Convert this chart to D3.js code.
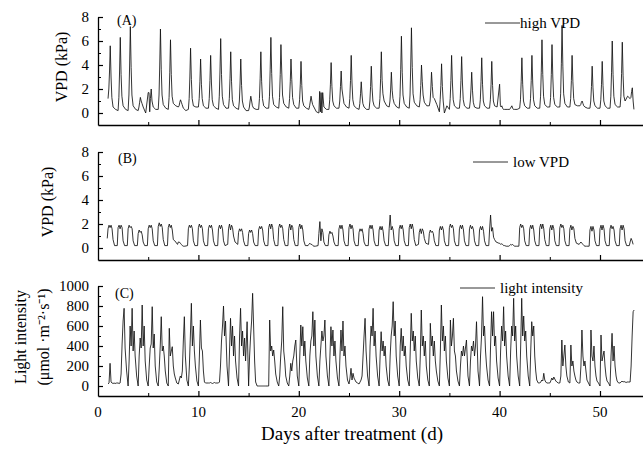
<!DOCTYPE html>
<html><head><meta charset="utf-8">
<script src="https://cdn.jsdelivr.net/npm/d3@7"></script>
<style>
html,body{margin:0;padding:0;background:#fff;}
svg{display:block;font-family:"Liberation Serif","Times New Roman",serif;}
</style></head><body>
<svg id="chart" width="643" height="450"></svg>
<script>
// ---------------- DATA ----------------
const firstDay = 1;               // first day with records
const xTicks = [0, 10, 20, 30, 40, 50];
const vpdTicks = [0, 2, 4, 6, 8];
const lightTicks = [0, 200, 400, 600, 800, 1000];

// within-day sampling offsets (fraction of a day) for each series
const highOffsets = [0, 0.08, 0.15, 0.22, 0.3, 0.38, 0.5, 0.75];
const lowOffsets = [-0.08, 0.0, 0.1, 0.2, 0.3, 0.4, 0.5, 0.65];
const lightOffsets = [0, 0.1, 0.2, 0.3, 0.4, 0.5, 0.6, 0.7, 0.85];

// (A) high VPD (kPa), one row per day starting at day 1
const highVPD = [
 [1.2,2.0,3.5,5.6,3.0,1.3,0.5,0.3],
 [0.2,1.3,3.5,6.3,3.2,1.4,0.6,0.3],
 [0.2,1.5,4.0,7.2,3.8,1.5,0.6,0.3],
 [0.2,0.5,0.9,1.3,1.0,0.8,0.5,0.0],
 [1.7,1.7,0.1,1.2,2.0,1.0,0.5,0.3],
 [0.3,1.5,4.0,7.0,3.6,1.5,0.7,0.4],
 [0.3,1.3,3.4,6.1,3.2,1.4,0.8,0.6],
 [0.5,0.6,0.9,1.1,0.9,0.7,0.4,0.2],
 [0.3,1.2,3.0,5.4,2.8,1.2,0.6,0.5],
 [0.5,1.2,2.6,4.5,2.4,1.2,0.6,0.4],
 [0.4,1.2,2.7,4.8,2.5,1.1,0.6,0.4],
 [0.3,1.4,3.5,6.2,3.2,1.4,0.7,0.4],
 [0.4,1.2,2.9,5.1,2.6,1.1,0.6,0.4],
 [0.3,1.0,2.5,4.5,2.3,1.0,0.5,0.2],
 [0.2,0.5,1.0,1.4,1.0,0.6,0.4,0.3],
 [0.3,1.2,2.9,5.1,2.6,1.2,0.6,0.4],
 [0.4,1.4,3.6,6.3,3.3,1.4,0.7,0.5],
 [0.4,1.3,3.2,5.7,3.5,1.5,0.8,0.5],
 [0.4,1.2,2.6,4.5,2.8,1.3,0.7,0.4],
 [0.4,1.1,2.4,4.3,2.3,1.0,0.6,0.4],
 [0.3,0.6,1.0,1.4,1.0,0.7,0.5,0.1],
 [0.0,1.8,0.1,1.7,0.0,1.7,0.5,0.3],
 [0.3,1.1,2.4,4.2,2.2,1.0,0.6,0.4],
 [0.4,1.0,2.2,3.5,2.0,1.5,0.8,0.5],
 [0.4,1.2,2.7,4.8,2.5,1.1,0.6,0.4],
 [0.3,0.8,1.6,2.6,1.5,0.8,0.5,0.3],
 [0.3,1.0,2.2,3.9,2.1,1.0,0.6,0.4],
 [0.4,1.2,2.9,5.1,2.7,1.6,1.0,0.6],
 [0.5,1.0,2.0,3.4,1.9,1.2,0.8,0.5],
 [0.4,1.4,3.6,6.4,3.4,1.5,0.8,0.5],
 [0.4,1.5,4.0,7.1,3.8,1.6,0.9,0.6],
 [0.5,1.1,2.3,4.0,2.6,1.5,0.9,0.6],
 [0.6,1.0,2.0,3.4,2.2,1.3,1.2,0.7],
 [0.1,1.1,2.3,4.1,2.2,1.0,0.0,0.6],
 [0.3,1.2,2.7,4.8,2.5,1.1,0.6,0.4],
 [0.4,1.2,2.7,4.7,2.5,1.1,0.6,0.4],
 [0.4,1.0,2.0,3.4,1.9,0.9,0.5,0.4],
 [0.4,1.1,2.6,4.6,2.4,1.0,0.6,0.4],
 [0.4,1.1,2.4,4.3,2.3,1.0,0.6,0.5],
 [2.4,0.6,0.5,0.6,0.4,0.3,0.3,0.3],
 [0.3,0.4,0.5,0.6,0.4,0.3,0.3,0.3],
 [0.4,1.1,2.6,4.6,2.4,1.0,0.6,0.4],
 [0.4,1.2,2.7,4.8,2.5,1.1,0.6,0.4],
 [0.4,1.4,3.4,6.1,3.2,1.4,0.7,0.5],
 [0.5,1.3,3.2,5.7,3.0,1.3,0.7,0.5],
 [0.5,1.6,4.1,7.3,3.9,1.6,0.8,0.5],
 [0.5,1.2,2.7,4.8,2.6,1.2,0.7,0.6],
 [0.6,0.7,0.9,1.0,0.8,0.6,0.5,0.4],
 [0.4,1.0,2.2,3.9,2.1,1.0,0.6,0.4],
 [0.4,1.1,2.4,4.3,2.3,1.0,0.6,0.4],
 [0.4,1.4,3.4,6.0,3.2,1.4,0.7,0.5],
 [0.5,1.4,3.3,5.9,3.1,1.4,1.0,1.4],
 [1.2,1.3,1.8,2.1,1.0,0.3]
];

// (B) low VPD (kPa)
const lowVPD = [
 [0.8,1.6,1.9,1.7,1.9,1.6,0.7,0.2],
 [0.2,1.7,1.9,1.6,1.9,1.7,0.6,0.2],
 [0.2,1.6,1.9,1.7,1.8,1.6,0.6,0.2],
 [0.2,1.2,1.5,1.3,1.4,1.1,0.5,0.2],
 [0.2,1.6,1.9,1.7,1.9,1.6,0.6,0.2],
 [0.2,1.8,2.1,1.8,2.0,1.7,0.7,0.2],
 [0.2,1.7,2.0,1.7,1.9,1.5,0.7,0.6],
 [0.3,0.5,0.5,0.4,0.3,0.2,0.15,0.15],
 [0.2,1.6,1.9,1.7,1.9,1.6,0.6,0.2],
 [0.2,1.7,2.0,1.7,1.9,1.6,0.6,0.2],
 [0.2,1.6,1.9,1.7,1.9,1.5,0.6,0.2],
 [0.2,1.6,1.9,1.6,1.9,1.6,0.6,0.2],
 [0.3,1.6,2.0,1.5,1.9,1.7,1.0,0.5],
 [0.3,1.3,1.6,1.4,1.6,1.3,0.6,0.2],
 [0.2,1.2,1.5,1.3,1.5,1.2,0.5,0.2],
 [0.2,1.5,1.8,1.6,1.8,1.5,0.6,0.2],
 [0.2,1.7,2.0,1.6,2.0,1.7,0.7,0.2],
 [0.2,1.7,2.0,1.7,1.9,1.6,0.7,0.2],
 [0.2,1.6,2.0,1.5,1.9,1.7,0.7,0.2],
 [0.2,1.7,2.0,1.6,1.9,1.5,0.6,0.2],
 [0.2,0.3,0.4,0.3,0.3,0.2,0.15,0.15],
 [0.2,1.2,2.2,0.6,1.6,1.3,0.5,0.2],
 [0.2,1.1,1.4,1.2,1.3,1.0,0.5,0.2],
 [0.2,1.6,1.9,1.6,1.9,1.5,0.6,0.2],
 [0.2,1.7,2.0,1.6,1.9,1.6,0.6,0.2],
 [0.2,1.3,1.6,1.4,1.6,1.2,0.5,0.2],
 [0.2,1.6,1.9,1.6,1.9,1.5,0.6,0.2],
 [0.2,1.5,1.8,1.5,1.8,1.4,0.6,0.2],
 [0.2,1.6,2.75,1.5,1.8,1.5,0.6,0.2],
 [0.2,1.6,1.9,1.6,1.9,1.5,0.6,0.2],
 [0.2,1.7,2.0,1.6,2.0,1.6,0.7,0.2],
 [0.3,1.3,1.6,1.2,1.6,1.4,0.8,0.4],
 [0.3,1.2,1.5,1.3,1.4,1.2,0.6,0.2],
 [0.2,1.5,1.8,1.5,1.8,1.5,0.6,0.2],
 [0.2,1.7,2.0,1.7,1.9,1.6,0.6,0.2],
 [0.2,1.6,1.9,1.6,1.9,1.5,0.6,0.2],
 [0.2,1.6,1.9,1.6,1.8,1.5,0.6,0.2],
 [0.2,1.5,1.8,1.5,1.8,1.4,0.6,0.2],
 [0.2,1.5,2.75,1.4,1.7,0.9,0.7,0.5],
 [0.4,0.4,0.3,0.35,0.3,0.2,0.2,0.15],
 [0.15,0.2,0.3,0.25,0.3,0.2,0.15,0.15],
 [0.15,1.7,2.0,1.7,1.9,1.6,0.6,0.2],
 [0.2,1.6,1.9,1.6,1.9,1.5,0.6,0.2],
 [0.2,1.7,2.0,1.6,2.0,1.6,0.7,0.2],
 [0.2,1.6,1.9,1.5,1.9,1.6,0.6,0.2],
 [0.2,1.7,2.0,1.7,1.9,1.6,0.6,0.2],
 [0.2,1.6,1.9,1.5,1.8,1.6,0.8,0.4],
 [0.3,0.4,0.5,0.4,0.3,0.2,0.15,0.15],
 [0.15,1.5,1.8,1.4,1.8,1.5,0.6,0.2],
 [0.2,1.6,1.9,1.5,1.9,1.6,0.6,0.2],
 [0.2,1.6,1.9,1.6,1.8,1.5,0.6,0.2],
 [0.2,1.6,1.9,1.5,1.9,1.6,0.6,0.2],
 [0.2,0.5,0.8,0.6,0.3]
];

// (C) light intensity (µmol m-2 s-1)
const lightIntensity = [
 [20,30,227,40,30,25,30,25,30],
 [30,25,30,120,420,650,777,380,150],
 [0,250,600,400,777,350,550,300,100],
 [0,300,480,380,810,400,600,250,60],
 [0,200,380,420,793,380,520,200,40],
 [0,180,400,693,350,400,300,150,30],
 [0,577,300,350,393,200,120,80,30],
 [20,60,100,80,150,450,693,300,60],
 [0,200,500,827,400,600,350,200,50],
 [0,300,660,380,350,150,40,30,30],
 [30,30,35,30,25,30,35,30,30],
 [30,40,200,450,600,800,500,650,200],
 [0,350,677,400,600,300,500,250,80],
 [0,500,777,400,550,300,480,250,643],
 [0,300,500,650,927,600,250,40,0],
 [0,0,0,0,0,0,0,0,0],
 [0,660,350,400,300,360,250,120,40],
 [0,100,300,450,793,350,250,100,30],
 [0,100,227,150,250,300,400,460,100],
 [0,300,610,400,593,300,450,250,80],
 [0,300,450,500,743,400,660,300,100],
 [0,250,400,550,450,500,660,300,100],
 [0,300,593,400,560,300,450,250,80],
 [0,300,560,350,650,300,400,200,60],
 [20,80,177,60,127,80,60,40,30],
 [20,40,60,100,300,500,677,350,100],
 [0,400,600,500,777,400,550,300,100],
 [0,300,543,350,450,300,400,200,60],
 [0,300,500,600,843,500,650,300,100],
 [0,400,577,350,500,300,400,200,60],
 [0,350,727,450,550,350,500,250,80],
 [0,300,760,400,500,300,450,200,60],
 [0,627,400,500,300,450,250,150,50],
 [0,350,810,450,600,350,500,250,80],
 [0,660,400,500,677,350,300,150,50],
 [0,200,350,300,400,300,380,460,100],
 [0,250,400,350,450,300,400,643,150],
 [0,300,500,893,500,600,350,200,60],
 [0,400,743,500,743,400,500,250,80],
 [0,350,600,450,793,400,550,300,100],
 [0,350,600,500,877,450,600,300,100],
 [0,400,877,500,700,450,550,300,100],
 [0,350,643,500,600,300,150,60,30],
 [30,40,60,50,127,60,40,30,30],
 [30,50,80,60,90,70,50,40,30],
 [30,100,460,200,300,410,200,100,40],
 [30,410,200,250,150,100,60,40,30],
 [30,200,560,300,200,250,150,60,30],
 [0,560,300,250,400,200,100,50,30],
 [0,510,250,300,350,200,100,50,30],
 [0,300,527,250,400,200,100,50,30],
 [30,40,50,40,45,40,35,40,40],
 [40,200,500,743,760]
];

// ---------------- CHART ----------------
const svg = d3.select("#chart");
const FONT = "'Liberation Serif','Times New Roman',serif";

const x = d3.scaleLinear().domain([0, 54.5]).range([98, 98 + 54.5 * 10.04]);

function toPoints(rows, offsets) {
  const pts = [];
  rows.forEach((row, i) => row.forEach((v, k) => pts.push([firstDay + i + offsets[k], v])));
  return pts;
}

const panels = [
  {label: "(A)", data: toPoints(highVPD, highOffsets), domain: [-1, 8], range: [125, 17],
   ticks: vpdTicks, minor: [1, 3, 5, 7], legend: "high VPD", legX: [485, 520], legY: 23, legGap: 0,
   title: ["VPD (kPa)"], titleX: [62], showX: false, labelPos: [117, 25]},
  {label: "(B)", data: toPoints(lowVPD, lowOffsets), domain: [-1, 8], range: [260, 152],
   ticks: vpdTicks, minor: [1, 3, 5, 7], legend: "low VPD", legX: [473, 508], legY: 162, legGap: 5,
   title: ["VPD (kPa)"], titleX: [48], showX: false, labelPos: [118, 163]},
  {label: "(C)", data: toPoints(lightIntensity, lightOffsets), domain: [-100, 1000], range: [396, 286],
   ticks: lightTicks, minor: [100, 300, 500, 700, 900], legend: "light intensity", legX: [460, 495], legY: 288, legGap: 5,
   title: ["Light intensity", "(\u03bcmol \u00b7m\u207b\u00b2\u00b7s\u207b\u00b9)"], titleX: [21, 44], showX: true, labelPos: [115, 298]}
];

panels.forEach(p => {
  const y = d3.scaleLinear().domain(p.domain).range(p.range);
  const g = svg.append("g");

  // data line
  g.append("path")
    .datum(p.data)
    .attr("fill", "none")
    .attr("stroke", "#111")
    .attr("stroke-width", 0.85)
    .attr("stroke-linejoin", "round")
    .attr("d", d3.line().x(d => x(d[0])).y(d => y(d[1])));

  // y axis
  const ya = g.append("g").attr("transform", `translate(${x(0)},0)`)
    .call(d3.axisLeft(y).tickValues(p.ticks).tickSizeInner(-5).tickSizeOuter(0).tickPadding(9)
      .tickFormat(d3.format("d")));
  ya.select(".domain").attr("stroke-width", 1.3);
  ya.selectAll(".tick line").attr("stroke-width", 1.2);
  ya.selectAll("text").attr("font-family", FONT).attr("font-size", 15).attr("fill", "#000");
  g.append("g").attr("transform", `translate(${x(0)},0)`)
    .call(d3.axisLeft(y).tickValues(p.minor).tickSize(-3).tickFormat(""))
    .call(s => s.select(".domain").remove());

  // x axis
  const xa = g.append("g").attr("transform", `translate(0,${p.range[0]})`)
    .call(d3.axisBottom(x).tickValues(xTicks.filter(t => t > 0)).tickSizeInner(-5).tickSizeOuter(0)
      .tickFormat(""));
  xa.select(".domain").attr("stroke-width", 1.3);
  xa.selectAll(".tick line").attr("stroke-width", 1.2);
  g.append("g").attr("transform", `translate(0,${p.range[0]})`)
    .call(d3.axisBottom(x).tickValues([5, 15, 25, 35, 45]).tickSize(-3).tickFormat(""))
    .call(s => s.select(".domain").remove());
  if (p.showX) {
    xTicks.forEach(t => {
      g.append("text").attr("x", x(t)).attr("y", p.range[0] + 21)
        .attr("text-anchor", "middle").attr("font-family", FONT).attr("font-size", 15).text(t);
    });
  }

  // panel label
  g.append("text").attr("x", p.labelPos[0]).attr("y", p.labelPos[1])
    .attr("font-family", FONT).attr("font-size", 14).text(p.label);

  // legend
  g.append("line").attr("x1", p.legX[0]).attr("x2", p.legX[1]).attr("y1", p.legY).attr("y2", p.legY)
    .attr("stroke", "#333").attr("stroke-width", 1);
  g.append("text").attr("x", p.legX[1] + p.legGap).attr("y", p.legY + 5)
    .attr("font-family", FONT).attr("font-size", 15).text(p.legend);

  // y title
  const yc = (p.range[0] + p.range[1]) / 2 - 4;
  p.title.forEach((t, i) => {
    g.append("text").attr("transform", `translate(${p.titleX[i] + 5},${yc}) rotate(-90)`)
      .attr("text-anchor", "middle").attr("font-family", FONT).attr("font-size", 16).text(t);
  });
});

svg.append("text").attr("x", 352).attr("y", 440).attr("text-anchor", "middle")
  .attr("font-family", FONT).attr("font-size", 19).text("Days after treatment (d)");
</script>
</body></html>
